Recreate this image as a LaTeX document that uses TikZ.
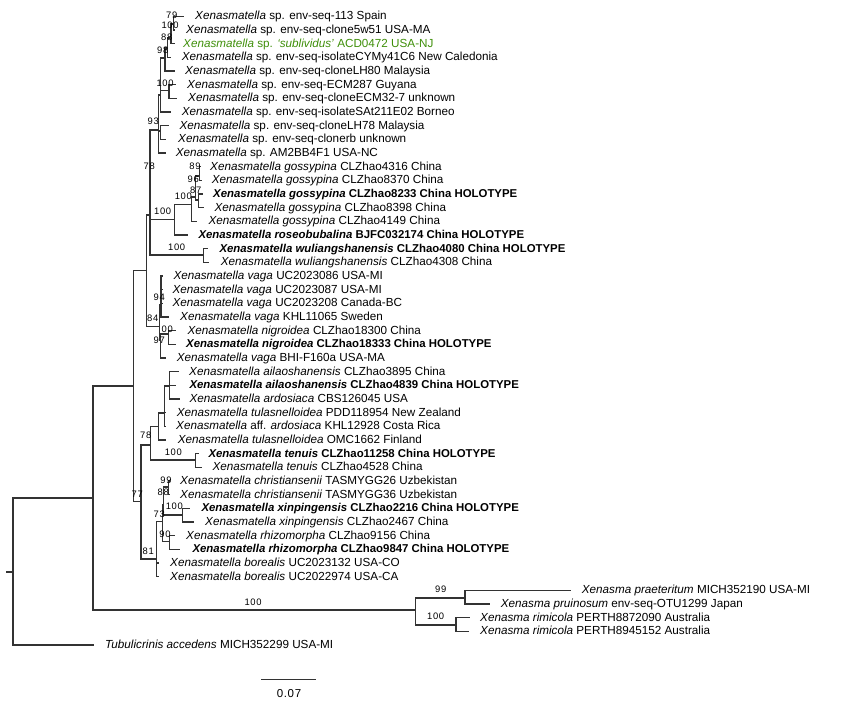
\documentclass[tikz,border=0pt]{standalone}
\usepackage{fontspec}
\setmainfont{Liberation Sans}
\definecolor{lineink}{HTML}{333333}
\definecolor{greentax}{HTML}{3F8F0A}
\tikzset{
  br/.style={draw=lineink,line width=1.55pt,line cap=rect},
  taxon/.style={anchor=west,inner sep=0pt,font=\fontsize{11.7}{13}\selectfont,text=black,text height=9.2pt,text depth=2.4pt},
  bs/.style={inner sep=0pt,font=\fontsize{9.4}{11}\selectfont\addfontfeatures{LetterSpace=7},text=black},
  sc/.style={inner sep=0pt,font=\fontsize{11.5}{13}\selectfont\addfontfeatures{LetterSpace=6},text=black}
}
\newcommand{\lf}[5]{%
  \node[taxon] (l#3) at (#2,{16.3+13.667*#3}) {#5};
  \coordinate (t#3) at (#4,{16.3+13.667*#3});
  \def\unused{#1}}
\newcommand{\X}{\textit{Xenasmatella}}
\newcommand{\hb}[1]{{\fontsize{11.4}{13}\selectfont\bfseries #1}}
\newcommand{\XB}{\textit{Xenasmatella}}
\newcommand{\ck}[2]{\foreach \c in {#2} {\draw[br] (#1) |- (\c);}}
\newcommand{\inn}[2]{\coordinate (#1) at (#2);}
\begin{document}
\begin{tikzpicture}[x=1pt,y=-1pt]
\useasboundingbox (0,0) rectangle (864,707);
% taxa
\lf{}{195}{0}{183}{\X{} sp. env-seq-113 Spain}
\lf{}{186}{1}{174.5}{\X{} sp. env-seq-clone5w51 USA-MA}
\lf{}{183}{2}{174.5}{\color{greentax}\textit{Xenasmatella} sp. \textit{‘sublividus’} ACD0472 USA-NJ}
\lf{}{181.7}{3}{170}{\X{} sp. env-seq-isolateCYMy41C6 New Caledonia}
\lf{}{185}{4}{174}{\X{} sp. env-seq-cloneLH80 Malaysia}
\lf{}{187}{5}{175}{\X{} sp. env-seq-ECM287 Guyana}
\lf{}{188}{6}{176.7}{\X{} sp. env-seq-cloneECM32-7 unknown}
\lf{}{181.7}{7}{170}{\X{} sp. env-seq-isolateSAt211E02 Borneo}
\lf{}{179.3}{8}{168}{\X{} sp. env-seq-cloneLH78 Malaysia}
\lf{}{178}{9}{165}{\X{} sp. env-seq-clonerb unknown}
\lf{}{175.7}{10}{165}{\X{} sp. AM2BB4F1 USA-NC}
\lf{}{210}{11}{200.5}{\X{} \textit{gossypina} CLZhao4316 China}
\lf{}{211.7}{12}{201.5}{\X{} \textit{gossypina} CLZhao8370 China}
\lf{}{213}{13}{202}{\hb{\XB{} \textit{gossypina} CLZhao8233 China HOLOTYPE}}
\lf{}{214.3}{14}{203}{\X{} \textit{gossypina} CLZhao8398 China}
\lf{}{208.3}{15}{196.7}{\X{} \textit{gossypina} CLZhao4149 China}
\lf{}{198.3}{16}{187}{\hb{\XB{} \textit{roseobubalina} BJFC032174 China HOLOTYPE}}
\lf{}{219.3}{17}{207.7}{\hb{\XB{} \textit{wuliangshanensis} CLZhao4080 China HOLOTYPE}}
\lf{}{220.7}{18}{208.5}{\X{} \textit{wuliangshanensis} CLZhao4308 China}
\lf{}{173.3}{19}{162}{\X{} \textit{vaga} UC2023086 USA-MI}
\lf{}{172.3}{20}{162}{\X{} \textit{vaga} UC2023087 USA-MI}
\lf{}{172.3}{21}{162}{\X{} \textit{vaga} UC2023208 Canada-BC}
\lf{}{180}{22}{168.3}{\X{} \textit{vaga} KHL11065 Sweden}
\lf{}{187.3}{23}{175}{\X{} \textit{nigroidea} CLZhao18300 China}
\lf{}{186}{24}{175}{\hb{\XB{} \textit{nigroidea} CLZhao18333 China HOLOTYPE}}
\lf{}{176.7}{25}{165.7}{\X{} \textit{vaga} BHI-F160a USA-MA}
\lf{}{189}{26}{178}{\X{} \textit{ailaoshanensis} CLZhao3895 China}
\lf{}{189.3}{27}{175}{\hb{\XB{} \textit{ailaoshanensis} CLZhao4839 China HOLOTYPE}}
\lf{}{189.3}{28}{179}{\X{} \textit{ardosiaca} CBS126045 USA}
\lf{}{176.7}{29}{165}{\X{} \textit{tulasnelloidea} PDD118954 New Zealand}
\lf{}{176}{30}{165}{\X{} aff. \textit{ardosiaca} KHL12928 Costa Rica}
\lf{}{177.7}{31}{165.7}{\X{} \textit{tulasnelloidea} OMC1662 Finland}
\lf{}{208.3}{32}{198.5}{\hb{\XB{} \textit{tenuis} CLZhao11258 China HOLOTYPE}}
\lf{}{212.3}{33}{201}{\X{} \textit{tenuis} CLZhao4528 China}
\lf{}{180}{34}{169.5}{\X{} \textit{christiansenii} TASMYGG26 Uzbekistan}
\lf{}{180}{35}{169.5}{\X{} \textit{christiansenii} TASMYGG36 Uzbekistan}
\lf{}{201.3}{36}{189}{\hb{\XB{} \textit{xinpingensis} CLZhao2216 China HOLOTYPE}}
\lf{}{205}{37}{193.3}{\X{} \textit{xinpingensis} CLZhao2467 China}
\lf{}{186}{38}{174.3}{\X{} \textit{rhizomorpha} CLZhao9156 China}
\lf{}{192.3}{39}{179.3}{\hb{\XB{} \textit{rhizomorpha} CLZhao9847 China HOLOTYPE}}
\lf{}{170}{40}{158.3}{\X{} \textit{borealis} UC2023132 USA-CO}
\lf{}{170}{41}{158.3}{\X{} \textit{borealis} UC2022974 USA-CA}
\lf{}{581.7}{42}{570}{\textit{Xenasma praeteritum} MICH352190 USA-MI}
\lf{}{500.7}{43}{489.3}{\textit{Xenasma pruinosum} env-seq-OTU1299 Japan}
\lf{}{480}{44}{469.3}{\textit{Xenasma rimicola} PERTH8872090 Australia}
\lf{}{480}{45}{468.5}{\textit{Xenasma rimicola} PERTH8945152 Australia}
\lf{}{105}{46}{93}{\textit{Tubulicrinis accedens} MICH352299 USA-MI}
% internal nodes
\inn{rt}{13,572}\inn{stub}{7,572}
\inn{A}{93,498}\inn{B}{133.6,386}\inn{C}{415.7,610}
\inn{C1}{465,598}\inn{C2}{456,625}
\inn{D}{146.7,270.7}\inn{F}{150,215}\inn{G}{159.5,326.5}
\inn{H}{158.4,130}\inn{I}{174.5,219.3}\inn{Wu}{203.5,255}
\inn{H1}{160.7,131}\inn{H2}{160.4,95}\inn{T}{165,58}\inn{Q}{169,90.7}
\inn{U}{167.7,48}\inn{V}{171,38}\inn{W}{173.3,24}
\inn{J}{191.7,204.3}\inn{K}{195.6,197}\inn{M}{199.7,176}\inn{N}{198.3,200}
\inn{G1}{161,305}\inn{G2}{160.3,340}\inn{Ni}{168.3,334}
\inn{E}{141,501.7}\inn{E2}{150.7,445}\inn{P}{158.3,426.7}\inn{Te}{195.7,460}
\inn{R}{164.3,413}\inn{S}{169.3,386}
\inn{Lo}{156.7,559}\inn{Y}{162.3,521.7}\inn{Y2}{163.5,505}
\inn{Rh}{169.3,541.7}\inn{Ch}{168.3,487}\inn{Xi}{182.3,515}
% branches
\draw[br] (stub) -- (rt);
\ck{rt}{A,t46}
\ck{A}{B,C}
\ck{C}{C1,C2}\ck{C1}{t42,t43}\ck{C2}{t44,t45}
\ck{B}{D,E}
\ck{D}{F,G}
\ck{F}{H,I,Wu}
\ck{Wu}{t17,t18}
\ck{H}{H1,H2,t10}\ck{H1}{t8,t9}
\ck{H2}{T,Q,t7}\ck{Q}{t5,t6}
\ck{T}{U,t4}\ck{U}{V,t3}\ck{V}{W,t2}\ck{W}{t0,t1}
\ck{I}{J,t16}\ck{J}{K,t15}\ck{K}{M,N}\ck{M}{t11,t12}\ck{N}{t13,t14}
\ck{G}{G1,G2}\ck{G1}{t19,t20,t21,t22}\ck{G2}{Ni,t25}\ck{Ni}{t23,t24}
\ck{E}{E2,Lo}
\ck{E2}{P,Te}\ck{Te}{t32,t33}
\ck{P}{R,t31}\ck{R}{S,t29,t30}\ck{S}{t26,t27,t28}
\ck{Lo}{Y,t40,t41}
\ck{Y}{Y2,Rh}\ck{Rh}{t38,t39}
\ck{Y2}{Ch,Xi}\ck{Ch}{t34,t35}\ck{Xi}{t36,t37}
% support values
\node[bs] (b1) at (171.7,15) {79};
\node[bs] (b2) at (170,25.7) {100};
\node[bs] (b3) at (166.7,37.3) {88};
\node[bs] (b4) at (162.7,50) {98};
\node[bs] (b5) at (165,83.3) {100};
\node[bs] (b6) at (153.3,121.7) {93};
\node[bs] (b7) at (149.3,166.7) {78};
\node[bs] (b8) at (195,166) {89};
\node[bs] (b9) at (193.3,179) {96};
\node[bs] (b10) at (195.7,190) {87};
\node[bs] (b11) at (183.3,196) {100};
\node[bs] (b12) at (162.7,211.7) {100};
\node[bs] (b13) at (176.7,247.7) {100};
\node[bs] (b14) at (159.3,297) {94};
\node[bs] (b15) at (152.7,318.3) {84};
\node[bs] (b16) at (167.3,329) {00};
\node[bs] (b17) at (159.3,340) {97};
\node[bs] (b18) at (145.7,435.7) {78};
\node[bs] (b19) at (173.3,452.3) {100};
\node[bs] (b20) at (166,480) {99};
\node[bs] (b21) at (163.3,492.7) {88};
\node[bs] (b22) at (174.3,506.7) {100};
\node[bs] (b23) at (159.3,514.3) {73};
\node[bs] (b24) at (165,534) {90};
\node[bs] (b25) at (137.3,494) {77};
\node[bs] (b26) at (148.3,551.7) {81};
\node[bs] (b27) at (253,602) {100};
\node[bs] (b28) at (440.7,589.3) {99};
\node[bs] (b29) at (435.7,616.7) {100};
% scale bar
\coordinate (s1) at (261,679.7);
\coordinate (s2) at (316,679.7);
\draw[br,line cap=butt] (s1) -- (s2);
\node[sc] (sl) at (289,693.5) {0.07};
\end{tikzpicture}
\end{document}
